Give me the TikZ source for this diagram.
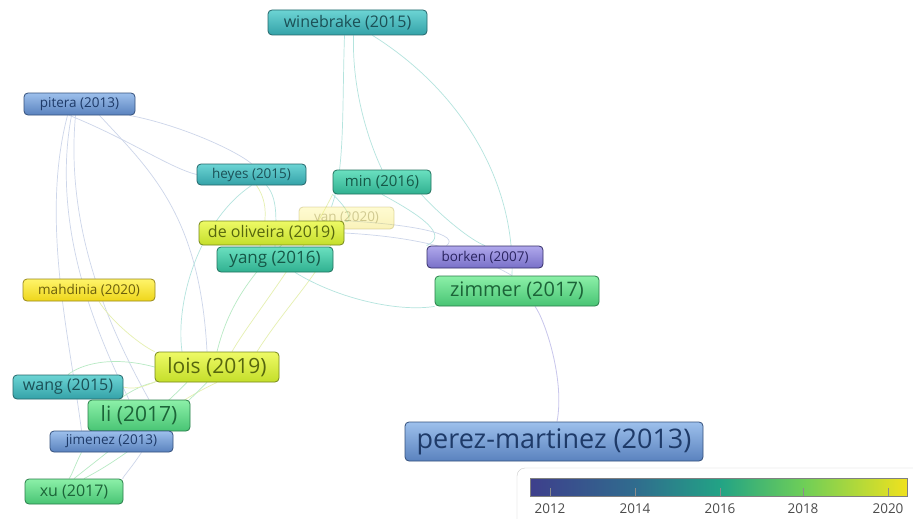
\documentclass[tikz,border=0pt]{standalone}
\usepackage{fontspec}
\setmainfont{Open Sans}
\pgfdeclarelayer{bg}
\pgfsetlayers{bg,main}
\begin{document}
\begin{tikzpicture}[x=1pt,y=-1pt,
  nd/.style={draw, rounded corners=4pt, line width=0.8pt, inner sep=0pt, align=center},
  y07/.style={top color=bk1, bottom color=bk2, draw=bk3, text=bk4},
  y13/.style={top color=bl1, bottom color=bl2, draw=bl3, text=bl4},
  y15/.style={top color=tl1, bottom color=tl2, draw=tl3, text=tl4},
  y16/.style={top color=tq1, bottom color=tq2, draw=tq3, text=tq4},
  y17/.style={top color=gr1, bottom color=gr2, draw=gr3, text=gr4},
  y19/.style={top color=lm1, bottom color=lm2, draw=lm3, text=lm4},
  y20/.style={top color=ye1, bottom color=ye2, draw=ye3, text=ye4},
  fs/.style={font=\fontsize{#1}{#1}\selectfont},
  et/.style={draw=edT, line width=0.7pt},
  eb/.style={draw=edB, line width=0.7pt},
  ey/.style={draw=edY, line width=0.7pt},
  eg/.style={draw=edG, line width=0.7pt},
  ep/.style={draw=edP, line width=0.8pt},
]
\definecolor{bk1}{HTML}{B0A8EC}\definecolor{bk2}{HTML}{7870C8}\definecolor{bk3}{HTML}{342E68}\definecolor{bk4}{HTML}{2A2460}
\definecolor{bl1}{HTML}{9DC0EC}\definecolor{bl2}{HTML}{5A82BE}\definecolor{bl3}{HTML}{34507C}\definecolor{bl4}{HTML}{1E3A68}
\definecolor{tl1}{HTML}{6CD4D4}\definecolor{tl2}{HTML}{34A2A8}\definecolor{tl3}{HTML}{25666A}\definecolor{tl4}{HTML}{1B5056}
\definecolor{tq1}{HTML}{6AE0C0}\definecolor{tq2}{HTML}{30B090}\definecolor{tq3}{HTML}{22725E}\definecolor{tq4}{HTML}{165848}
\definecolor{gr1}{HTML}{8CF0A8}\definecolor{gr2}{HTML}{48C474}\definecolor{gr3}{HTML}{2A7E4A}\definecolor{gr4}{HTML}{1C6438}
\definecolor{lm1}{HTML}{EEFA66}\definecolor{lm2}{HTML}{C4DE2A}\definecolor{lm3}{HTML}{76881C}\definecolor{lm4}{HTML}{56660E}
\definecolor{ye1}{HTML}{FFF46A}\definecolor{ye2}{HTML}{EED61A}\definecolor{ye3}{HTML}{98881C}\definecolor{ye4}{HTML}{6A5E0C}
\definecolor{edT}{HTML}{B4E4DE}\definecolor{edB}{HTML}{CDD6EA}\definecolor{edY}{HTML}{E6F0B0}
\definecolor{edG}{HTML}{B8EAC4}\definecolor{edP}{HTML}{C8C6EC}
\definecolor{v0}{HTML}{3E3F8C}\definecolor{v1}{HTML}{306C8E}\definecolor{v2}{HTML}{22A385}
\definecolor{v3}{HTML}{6ECE58}\definecolor{v4}{HTML}{F0E21E}
\useasboundingbox (0,0) rectangle (913,519);

% ---- nodes ----
\path
 (347.5,22.5) node[nd,y15,fs=16,minimum width=159pt,minimum height=25pt] (win) {winebrake (2015)}
 (79.5,104) node[nd,y13,fs=13.5,minimum width=111pt,minimum height=22pt] (pit) {pitera (2013)}
 (251.5,174.5) node[nd,y15,fs=13.5,minimum width=109pt,minimum height=21pt] (hey) {heyes (2015)}
 (382,182) node[nd,y16,fs=15,minimum width=98pt,minimum height=24pt] (min) {min (2016)}
 (346.5,218) node[nd,y20,fs=13.5,minimum width=95pt,minimum height=22pt,opacity=0.3] (yan) {yan (2020)}
 (271.5,233) node[nd,y19,fs=16,minimum width=145pt,minimum height=24pt] (deo) {de oliveira (2019)}
 (275,259.5) node[nd,y16,fs=17,minimum width=116pt,minimum height=25pt] (yng) {yang (2016)}
 (485,257) node[nd,y07,fs=13.5,minimum width=116pt,minimum height=22pt] (bor) {borken (2007)}
 (517,291) node[nd,y17,fs=20,minimum width=164pt,minimum height=30pt] (zim) {zimmer (2017)}
 (89,290) node[nd,y20,fs=13.5,minimum width=132pt,minimum height=22pt] (mah) {mahdinia (2020)}
 (217,367) node[nd,y19,fs=21,minimum width=124pt,minimum height=30pt] (lois) {lois (2019)}
 (68,387) node[nd,y15,fs=16,minimum width=110pt,minimum height=24pt] (wan) {wang (2015)}
 (139,415.5) node[nd,y17,fs=21,minimum width=102pt,minimum height=31pt] (li) {li (2017)}
 (111.5,441.5) node[nd,y13,fs=13.5,minimum width=123pt,minimum height=21pt] (jim) {jimenez (2013)}
 (74,491.5) node[nd,y17,fs=16,minimum width=98pt,minimum height=25pt] (xu) {xu (2017)}
 (554,441.5) node[nd,y13,fs=27,minimum width=298pt,minimum height=39pt] (per) {perez-martinez (2013)};

% ---- edges (behind) ----
\begin{pgfonlayer}{bg}
\fill[white] (0,0) rectangle (913,519);
\draw[et] ([xshift=-3pt]win.south) .. controls (342,110) and (345,170) .. ([xshift=-15pt]yan.north);
\draw[et] ([xshift=6pt]win.south) .. controls (352,90) and (368,140) .. (min.north);
\draw[et] ([xshift=25pt]win.south) .. controls (460,90) and (515,180) .. ([xshift=-5pt]zim.north);
\draw[eb] ([xshift=-10pt]pit.south) .. controls (130,140) and (170,168) .. (hey.west);
\draw[eb] ([xshift=20pt]pit.south) .. controls (150,170) and (200,215) .. ([xshift=-10pt]lois.north);
\draw[eb] ([xshift=50pt]pit.south) .. controls (180,125) and (235,150) .. (hey.north);
\draw[eb] ([xshift=-12pt]pit.south) .. controls (40,220) and (70,340) .. ([xshift=-30pt]jim.north);
\draw[eb] ([xshift=-8pt]pit.south) .. controls (50,230) and (100,340) .. ([xshift=-10pt]li.north);
\draw[eb] ([xshift=-4pt]pit.south) .. controls (65,230) and (110,330) .. ([xshift=10pt]li.north);
\draw[et] (hey.south) .. controls (200,220) and (175,300) .. ([xshift=-35pt]lois.north);
\draw[et] ([xshift=15pt]hey.south) .. controls (280,200) and (275,230) .. (yng.north);
\draw[ey] ([xshift=5pt]hey.south) .. controls (270,205) and (265,225) .. ([xshift=-15pt]yng.north);
\draw[ey] ([xshift=10pt]mah.south) .. controls (110,320) and (140,345) .. (lois.north west);
\draw[eg] (yan.south west) .. controls (240,280) and (225,320) .. (lois.north);
\draw[ey] (min.south west) .. controls (300,260) and (250,320) .. ([xshift=15pt]lois.north);
\draw[ey] ([xshift=40pt]lois.north) .. controls (290,300) and (325,270) .. ([xshift=-10pt]yan.south);
\draw[et] (min.south) .. controls (420,215) and (450,235) .. (bor.north west);
\draw[et] ([xshift=-10pt]min.south east) .. controls (440,215) and (470,240) .. (bor.north);
\draw[eb] (deo.north east) .. controls (420,225) and (460,235) .. ([xshift=20pt]bor.north west);
\draw[eb] (deo.east) .. controls (400,236) and (460,245) .. ([xshift=-5pt]zim.north);
\draw[et] (min.south west) .. controls (355,215) and (350,225) .. (deo.north east);
\draw[et] ([xshift=20pt]yng.south) .. controls (340,300) and (400,312) .. (zim.south west);
\draw[ep] ([xshift=18pt]zim.south) .. controls (545,320) and (565,380) .. ([xshift=3pt]per.north);
\draw[eg] (lois.south west) .. controls (140,385) and (125,395) .. ([xshift=-20pt]li.north);
\draw[eg] (lois.west) .. controls (110,355) and (80,365) .. (wan.north);
\draw[ey] (lois.south) .. controls (180,400) and (150,420) .. (jim.north east);
\draw[eg] ([xshift=-30pt]lois.south) .. controls (150,420) and (110,450) .. (xu.north);
\draw[eg] ([xshift=-10pt]lois.south) .. controls (160,430) and (120,460) .. ([xshift=10pt]xu.north);
\draw[eg] ([xshift=-30pt]jim.south) .. controls (75,465) and (72,475) .. ([xshift=-5pt]xu.north);
\draw[eb] ([xshift=30pt]jim.south) .. controls (130,470) and (120,480) .. (xu.north east);
\draw[ey] (wan.east) .. controls (140,392) and (160,378) .. (lois.south west);
\end{pgfonlayer}

% ---- colour bar ----
\draw[draw=black!20, rounded corners=8pt, fill=white] (517,468) rectangle (935,540);
\shade[left color=v0, right color=v1] (530,478) rectangle (635,496);
\shade[left color=v1, right color=v2] (635,478) rectangle (720,496);
\shade[left color=v2, right color=v3] (720,478) rectangle (803,496);
\shade[left color=v3, right color=v4] (803,478) rectangle (907,496);
\draw[black!50, line width=0.8pt] (530,478) rectangle (907,496);
\foreach \x/\yr in {550/2012,635/2014,720/2016,803/2018,888/2020}{
  \draw[black!45, line width=0.7pt] (\x,488) -- (\x,496);
  \node[fs=13.5, text=black!70] at (\x,509) {\yr};
}
\end{tikzpicture}
\end{document}
